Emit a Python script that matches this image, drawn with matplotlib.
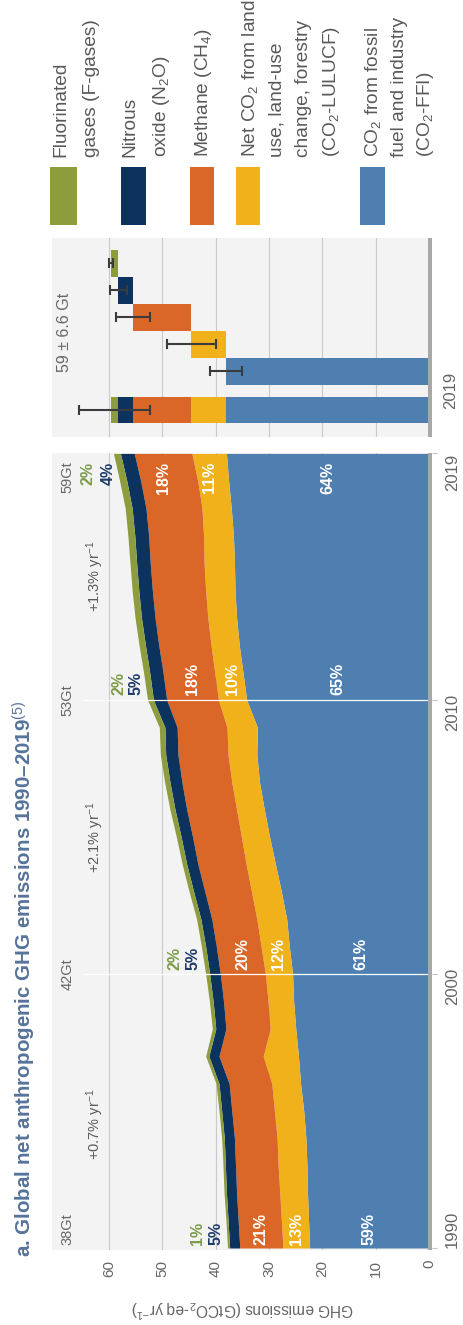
import matplotlib
matplotlib.use("Agg")
import matplotlib.pyplot as plt
from matplotlib.patches import Rectangle

plt.rcParams['font.family'] = ['Liberation Sans', 'DejaVu Sans']
plt.rcParams['mathtext.fontset'] = 'custom'
plt.rcParams['mathtext.rm'] = 'Liberation Sans'
plt.rcParams['mathtext.it'] = 'Liberation Sans:italic'
plt.rcParams['mathtext.bf'] = 'Liberation Sans:bold'

# ---------------- data (GtCO2-eq per year) ----------------
years = list(range(1990, 2020))
co2_ffi = [22.4, 22.6, 22.8, 22.9, 23.1, 23.5, 24.1, 24.5, 25.0, 25.4,
           25.6, 26.2, 26.7, 27.7, 28.8, 29.9, 30.9, 31.8, 32.3, 32.2,
           34.2, 34.9, 35.6, 36.1, 36.4, 36.5, 36.7, 37.1, 37.6, 38.0]
co2_lulucf = [5.0, 5.1, 5.2, 5.4, 5.4, 5.5, 5.4, 6.6, 4.8, 4.8,
              5.1, 5.3, 5.6, 5.6, 5.5, 5.3, 5.2, 5.2, 5.4, 5.7,
              5.3, 5.3, 5.3, 5.4, 5.5, 5.7, 5.6, 5.5, 5.8, 6.5]
ch4 = [8.1, 8.1, 8.1, 8.0, 8.0, 8.0, 8.0, 8.3, 8.3, 8.35,
       8.45, 8.4, 8.45, 8.75, 9.05, 9.15, 9.35, 9.35, 9.4, 9.35,
       9.7, 9.7, 9.8, 9.9, 10.0, 10.1, 10.3, 10.5, 10.7, 10.8]
n2o = [1.9, 1.9, 1.9, 1.9, 1.9, 1.9, 1.9, 1.9, 1.9, 1.95,
       2.0, 2.0, 2.05, 2.1, 2.1, 2.15, 2.2, 2.25, 2.3, 2.3,
       2.5, 2.5, 2.5, 2.55, 2.55, 2.55, 2.6, 2.6, 2.6, 2.6]
fgas = [0.4, 0.4, 0.45, 0.45, 0.5, 0.5, 0.55, 0.6, 0.65, 0.7,
        0.75, 0.8, 0.8, 0.85, 0.85, 0.9, 0.95, 1.0, 1.0, 1.05,
        1.1, 1.15, 1.2, 1.2, 1.25, 1.25, 1.3, 1.3, 1.35, 1.3]

label_years = [1990, 2000, 2010, 2019]
growth_labels = ['+0.7% yr$^{-1}$', '+2.1% yr$^{-1}$', '+1.3% yr$^{-1}$']
growth_years = [1994.5, 2005.0, 2014.5]

# 2019 values with uncertainty (bar panel)
bar_names = ['F-gases', 'N2O', 'CH4', 'CO2-LULUCF', 'CO2-FFI']
bar_values = [1.4, 2.7, 11.0, 6.6, 38.0]
bar_errors = [0.41, 1.6, 3.2, 4.6, 3.0]
total_2019 = 59
total_2019_err = 6.6

value_ticks = [0, 10, 20, 30, 40, 50, 60]

# ---------------- styling ----------------
C_FGAS = '#8d9d3e'
C_N2O = '#0c335e'
C_CH4 = '#da6628'
C_LULUCF = '#f1b11b'
C_FFI = '#4f7fb0'
PANEL = '#f3f3f3'
GRID = '#c9c9c9'
ZERO = '#a8a8a8'
TXT = '#666666'
TITLE = '#56739a'

W, H = 463, 1325
fig = plt.figure(figsize=(W / 100, H / 100), dpi=100)
fig.patch.set_facecolor('white')


def fx(px):
    return px / W


def fy(py):
    return 1 - py / H


XLIM = (70.73, -0.56)

# ---------------- main stacked area panel ----------------
ax = fig.add_axes([fx(52), fy(1250), fx(432) - fx(52), fy(453) - fy(1250)])
ax.set_facecolor(PANEL)
ax.set_xlim(*XLIM)
ax.set_ylim(1989.927, 2019.015)
for s in ax.spines.values():
    s.set_visible(False)

for v in value_ticks[1:]:
    ax.axvline(v, color=GRID, lw=0.8, zorder=1)

layers = [(co2_ffi, C_FFI), (co2_lulucf, C_LULUCF), (ch4, C_CH4),
          (n2o, C_N2O), (fgas, C_FGAS)]
base = [0.0] * len(years)
bounds = [base]
for vals, col in layers:
    top = [b + v for b, v in zip(base, vals)]
    ax.fill_betweenx(years, base, top, color=col, lw=0, zorder=2)
    base = top
    bounds.append(top)
totals = base

ax.axvline(-0.19, color=ZERO, lw=2.9, zorder=4)
for yv in (2000, 2010):
    ax.hlines(yv, 65, XLIM[1], color='white', lw=0.9, zorder=3)

ax.set_xticks(value_ticks)
ax.set_xticklabels([str(v) for v in value_ticks], rotation=90)
ax.tick_params(axis='x', length=0, pad=7, labelsize=11, labelcolor=TXT)
ax.set_xlabel('GHG emissions (GtCO$_2$-eq yr$^{-1}$)', rotation=180,
              color=TXT, fontsize=11.2, labelpad=15)

ax.yaxis.tick_right()
ax.set_yticks(label_years)
ax.set_yticklabels([str(y) for y in label_years], rotation=90)
ax.tick_params(axis='y', length=3.5, width=0.8, color='#c4c4c4', pad=6,
               labelsize=12, labelcolor=TXT)
ylabs = ax.get_yticklabels()
ylabs[0].set_va('bottom')
ylabs[-1].set_va('top')

# share labels at the four labelled years
share_specs = {
    1990: dict(y=1990.12, va='bottom', out=(43.4, 40.0)),
    2000: dict(y=2000.15, va='bottom', out=(47.7, 44.3)),
    2010: dict(y=2010.18, va='bottom', out=(58.2, 55.0)),
    2019: dict(y=2018.68, va='top', out=(63.9, 60.1)),
}
PCT_SIZE = 11.5
for yr, spec in share_specs.items():
    i = years.index(yr)
    tot = totals[i]
    pct = [round(100 * vals[i] / tot) for vals, _ in layers]
    # inside labels: FFI, LULUCF, CH4 centred in their bands
    for k in range(3):
        mid = (bounds[k][i] + bounds[k + 1][i]) / 2
        ax.text(mid, spec['y'], f'{pct[k]}%', rotation=90, ha='center',
                va=spec['va'], color='white', fontsize=PCT_SIZE,
                fontweight='bold', zorder=5)
    ax.text(spec['out'][1], spec['y'], f'{pct[3]}%', rotation=90,
            ha='center', va=spec['va'], color='#1d3a68', fontsize=PCT_SIZE,
            fontweight='bold', zorder=5)
    ax.text(spec['out'][0], spec['y'], f'{pct[4]}%', rotation=90,
            ha='center', va=spec['va'], color='#7c9c4a', fontsize=PCT_SIZE,
            fontweight='bold', zorder=5)

gt_specs = {1990: (1990.12, 'bottom'), 2000: (2000.0, 'center'),
            2010: (2010.0, 'center'), 2019: (2018.72, 'top')}
for yr, (ypos, va) in gt_specs.items():
    i = years.index(yr)
    ax.text(67.8, ypos, f'{round(totals[i])}Gt', rotation=90, ha='center',
            va=va, color=TXT, fontsize=10.5, zorder=5)

for lab, yv in zip(growth_labels, growth_years):
    ax.text(62.6, yv, lab, rotation=90, ha='center', va='center',
            color='#5a5a5a', fontsize=10.5, zorder=5)

# ---------------- 2019 bar panel ----------------
bx = fig.add_axes([fx(52), fy(437), fx(432) - fx(52), fy(238) - fy(437)])
bx.set_facecolor(PANEL)
bx.set_xlim(*XLIM)
bx.set_ylim(6.44, -0.926)
for s in bx.spines.values():
    s.set_visible(False)
bx.set_xticks([])
bx.set_yticks([])
for v in value_ticks[1:]:
    bx.axvline(v, color=GRID, lw=0.8, zorder=1)

bar_colors = [C_FGAS, C_N2O, C_CH4, C_LULUCF, C_FFI]
# waterfall: FFI first from zero, then each gas stacked on the previous
order = [4, 3, 2, 1, 0]
start = 0.0
ends = {}
for k in order:
    bx.barh(k, bar_values[k], left=start, height=1.0, color=bar_colors[k],
            lw=0, zorder=2)
    start += bar_values[k]
    ends[k] = start
for k in order:
    bx.errorbar(ends[k], k, xerr=bar_errors[k], fmt='none', ecolor='#3b3b3b',
                elinewidth=1.5, capsize=3.6, capthick=1.5, zorder=3)

total_pos = 5.44
start = 0.0
for k in order:
    bx.barh(total_pos, bar_values[k], left=start, height=0.97,
            color=bar_colors[k], lw=0, zorder=2)
    start += bar_values[k]
bx.errorbar(total_2019, total_pos, xerr=total_2019_err, fmt='none',
            ecolor='#3b3b3b', elinewidth=1.5, capsize=3.6, capthick=1.5,
            zorder=3)
bx.axvline(-0.19, color=ZERO, lw=2.9, zorder=4)

bx.text(68.4, 4.04, f'{total_2019} ± {total_2019_err} Gt', rotation=90,
        ha='center', va='bottom', color=TXT, fontsize=11.5)
fig.text(fx(443), fy(390), '2019', rotation=90, ha='left', va='center',
         color=TXT, fontsize=12)

# ---------------- title ----------------
fig.text(fx(24), fy(1257), 'a. Global net anthropogenic GHG emissions 1990–2019$^{(5)}$',
         rotation=90, ha='center', va='bottom', color=TITLE, fontsize=14.8,
         fontweight='bold')

# ---------------- legend ----------------
legend_items = [
    (C_FGAS, (50, 77), [(61, 'Fluorinated'), (92, 'gases (F-gases)')]),
    (C_N2O, (121, 146), [(130, 'Nitrous'), (162, 'oxide (N$_2$O)')]),
    (C_CH4, (190, 214), [(203, 'Methane (CH$_4$)')]),
    (C_LULUCF, (236, 260), [(250, 'Net CO$_2$ from land'), (277, 'use, land-use'),
                            (304, 'change, forestry'), (331, '(CO$_2$-LULUCF)')]),
    (C_FFI, (360, 385), [(373, 'CO$_2$ from fossil'), (400, 'fuel and industry'),
                         (426, '(CO$_2$-FFI)')]),
]
for col, (x0, x1), lines in legend_items:
    fig.patches.append(Rectangle((fx(x0), fy(225)), fx(x1) - fx(x0),
                                 fy(167) - fy(225), transform=fig.transFigure,
                                 facecolor=col, edgecolor='none'))
    for xc, txt in lines:
        fig.text(fx(xc), fy(157), txt, rotation=90, ha='center', va='bottom',
                 color='#595959', fontsize=13.8)

fig.savefig('out.png', dpi=100, facecolor='white')
